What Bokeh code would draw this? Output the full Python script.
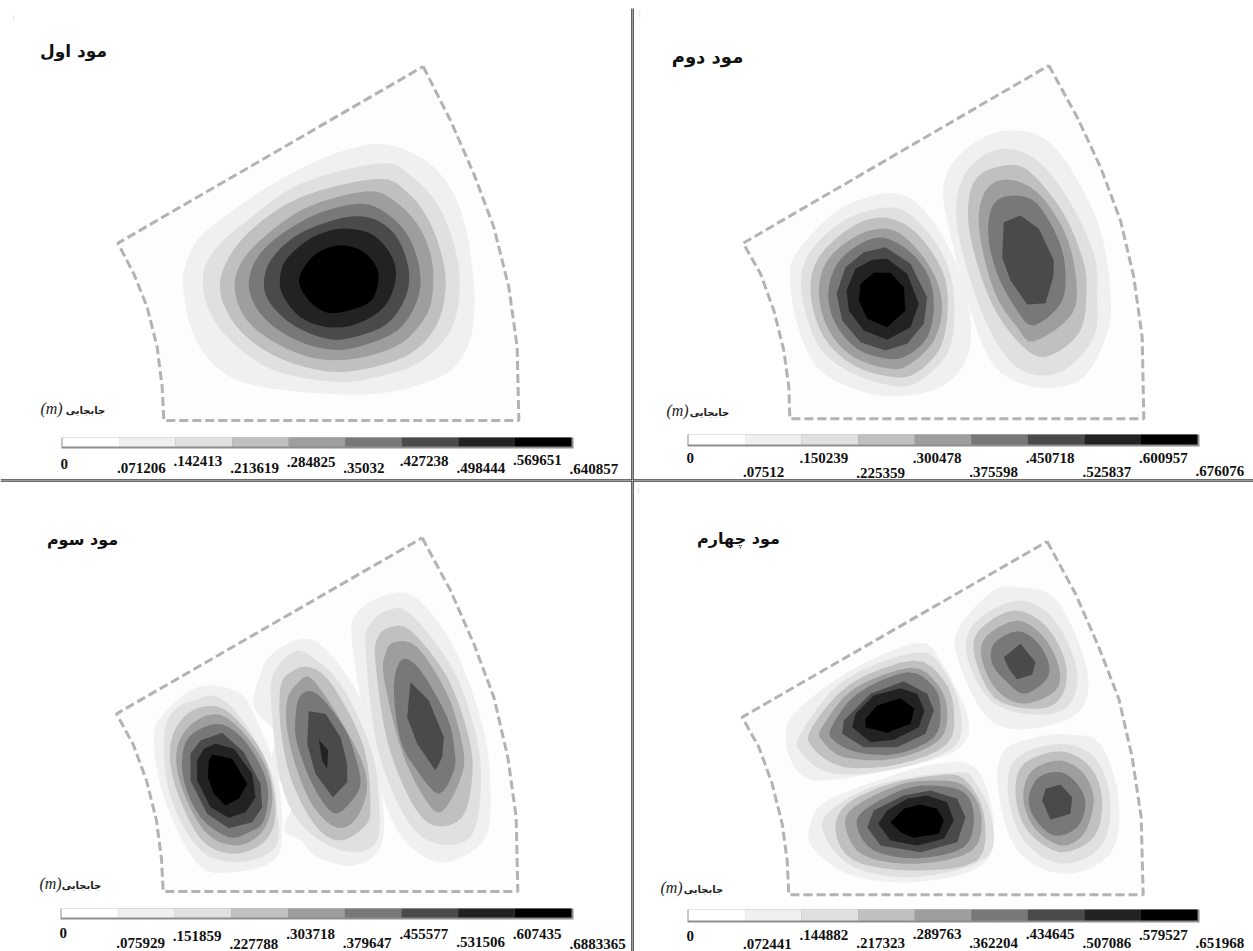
from bokeh.plotting import figure
from bokeh.layouts import column, row
from bokeh.models import Range1d, ColumnDataSource
from bokeh.core.properties import value
from bokeh.embed import file_html
from bokeh.resources import INLINE

# ---- data ----------------------------------------------------------------
TITLES = ["مود اول", "مود دوم", "مود سوم", "مود چهارم"]
WORD = "جابجایی"
UNIT = "(m)"
BAND_COLORS = ["#ffffff", "#f0f0f0", "#e0e0e0", "#c0c0c0", "#9e9e9e", "#787878", "#4a4a4a", "#222222", "#000000"]

TICKS_1 = [".071206", ".142413", ".213619", ".284825", ".35032", ".427238", ".498444", ".569651", ".640857"]
TICKS_2 = [".07512", ".150239", ".225359", ".300478", ".375598", ".450718", ".525837", ".600957", ".676076"]
TICKS_3 = [".075929", ".151859", ".227788", ".303718", ".379647", ".455577", ".531506", ".607435", ".6883365"]
TICKS_4 = [".072441", ".144882", ".217323", ".289763", ".362204", ".434645", ".507086", ".579527", ".651968"]
EDGES_1 = [0, .071206, .142413, .213619, .284825, .356032, .427238, .498444, .569651, .640857]
EDGES_2 = [0, .07512, .150239, .225359, .300478, .375598, .450718, .525837, .600957, .676076]
EDGES_3 = [0, .075929, .151859, .227788, .303718, .379647, .455577, .531506, .607435, .683365]
EDGES_4 = [0, .072441, .144882, .217323, .289763, .362204, .434645, .507086, .579527, .651968]

# sector outlines
SECTOR_1 = [(968,18),(1050,180),(1120,340),(1180,500),(1225,680),(1250,860),(1255,1080),(190,1080),(185,980),(170,860),(140,740),(100,640),(52,548)]
SECTOR_2 = [(955,15),(1040,170),(1110,320),(1170,480),(1210,650),(1235,830),(1240,1075),(178,1075),(175,980),(160,870),(130,750),(90,640),(38,548)]
SECTOR_3 = [(965,22),(1050,180),(1120,340),(1180,500),(1222,680),(1247,860),(1252,1083),(188,1083),(183,985),(168,870),(138,750),(98,642),(48,550)]
SECTOR_4 = [(950,33),(1035,190),(1105,350),(1165,505),(1205,680),(1232,860),(1238,1093),(175,1093),(170,990),(155,880),(125,760),(85,650),(35,560)]

# traced iso-displacement outlines: per lobe, outermost band first
M1_A = [
 [(840,250),(920,270),(1000,320),(1060,400),(1095,500),(1115,620),(1122,740),(1105,850),(1050,930),(950,975),(830,1000),(680,1000),(520,985),(400,955),(320,890),(270,800),(250,700),(250,630),(290,540),(370,470),(500,380),(650,300),(760,262)],
 [(840,308),(930,345),(1010,430),(1060,550),(1078,680),(1050,810),(950,910),(790,958),(680,962),(520,930),(400,850),(325,750),(308,640),(350,560),(440,480),(600,370)],
 [(830,355),(920,395),(985,480),(1025,590),(1035,690),(1005,800),(920,885),(770,930),(650,928),(510,880),(410,800),(360,700),(375,610),(450,510),(600,410)],
 [(800,392),(880,420),(950,490),(990,580),(998,670),(980,760),(900,850),(770,893),(650,895),(530,850),(440,780),(403,690),(420,610),(490,530),(620,440)],
 [(780,430),(860,460),(925,530),(958,630),(950,720),(890,810),(770,860),(670,865),(560,825),(480,760),(445,680),(465,600),(530,530),(650,460)],
 [(770,467),(840,485),(895,540),(925,630),(915,710),(860,790),(760,830),(680,835),(580,795),(510,730),(490,670),(510,600),(580,530),(680,485)],
 [(750,505),(820,525),(875,590),(885,660),(850,740),(770,790),(680,800),(600,770),(550,710),(538,660),(555,600),(620,540),(690,510)],
 [(735,555),(790,575),(830,625),(830,680),(800,730),(700,758),(640,735),(600,680),(600,640),(640,585),(690,560)],
]
M2_A = [
 [(490,398),(550,420),(620,500),(690,640),(720,780),(710,890),(640,975),(500,1008),(370,985),(260,920),(200,790),(178,640),(210,560),(320,450),(420,408)],
 [(480,440),(570,490),(650,610),(672,750),(650,880),(560,965),(480,975),(350,930),(260,850),(212,690),(235,580),(340,480)],
 [(470,472),(560,520),(635,630),(652,740),(630,860),(560,935),(490,950),(370,915),(280,830),(240,700),(265,590),(370,495)],
 [(470,505),(540,545),(610,640),(635,740),(610,840),(540,910),(480,925),(370,890),(295,810),(265,700),(290,600),(380,525)],
 [(460,532),(540,575),(595,650),(610,740),(590,830),(530,885),(470,895),(380,865),(315,790),(293,700),(320,610),(390,550)],
 [(465,560),(540,610),(590,710),(580,790),(530,850),(465,870),(390,845),(335,780),(318,700),(345,620),(400,575)],
 [(470,595),(530,640),(565,730),(540,800),(470,838),(400,810),(355,750),(348,690),(375,625),(425,598)],
 [(480,637),(520,680),(525,750),(470,800),(410,775),(385,720),(390,670),(430,637)],
]
M2_B = [
 [(860,210),(950,240),(1030,340),(1110,510),(1140,700),(1130,820),(1060,950),(950,983),(850,960),(780,900),(720,750),(650,480),(640,370),(680,290),(770,225)],
 [(830,265),(920,300),(1010,410),(1090,580),(1100,710),(1090,830),(1000,930),(900,940),(820,880),(740,720),(680,500),(690,370),(750,290)],
 [(840,313),(910,345),(1000,460),(1055,590),(1068,680),(1050,810),(960,885),(890,870),(800,760),(740,610),(712,460),(740,350)],
 [(830,357),(920,395),(1000,510),(1035,640),(1025,760),(910,843),(860,800),(790,690),(745,500),(765,390)],
 [(850,405),(920,430),(985,540),(1005,640),(990,730),(910,795),(860,750),(800,640),(773,520),(790,430)],
 [(870,465),(925,505),(970,600),(968,650),(945,728),(890,732),(840,660),(815,590),(820,485)],
]
M3_A = [
 [(340,465),(420,490),(460,550),(530,730),(545,900),(520,990),(400,1025),(290,1000),(190,800),(160,620),(190,550),(270,480)],
 [(345,497),(420,560),(510,720),(530,840),(525,950),(420,995),(300,960),(210,800),(190,620),(220,540),(280,510)],
 [(350,528),(430,590),(500,700),(525,850),(490,935),(395,970),(300,925),(225,770),(210,640),(260,550)],
 [(360,553),(440,620),(500,720),(515,820),(480,910),(400,945),(310,900),(240,760),(230,650),(280,575)],
 [(365,582),(440,640),(500,760),(490,870),(445,905),(385,920),(300,860),(250,750),(250,650),(290,600)],
 [(365,607),(430,665),(480,760),(485,830),(455,875),(385,893),(320,850),(270,750),(270,670),(300,630)],
 [(345,640),(400,655),(455,730),(465,800),(435,845),(385,862),(330,830),(290,750),(290,690),(310,655)],
 [(335,672),(395,685),(440,760),(415,805),(375,825),(340,790),(322,740),(325,690)],
]
M3_B = [
 [(600,325),(680,360),(790,530),(845,800),(840,950),(760,1005),(650,980),(600,930),(550,895),(585,800),(530,740),(515,670),(530,610),(460,530),(480,430),(510,375)],
 [(570,370),(620,370),(720,460),(810,650),(835,800),(825,940),(720,960),(600,880),(540,750),(515,560),(515,440)],
 [(570,425),(630,410),(700,470),(790,650),(810,830),(790,890),(715,930),(640,880),(570,740),(540,590),(540,470)],
 [(590,460),(640,450),(760,640),(800,760),(770,860),(710,892),(640,830),(590,720),(560,600),(560,510)],
 [(600,495),(650,490),(730,590),(765,680),(780,760),(750,815),(700,848),(640,770),(590,640),(585,560)],
 [(625,542),(675,550),(720,620),(740,700),(740,755),(697,800),(645,730),(620,640)],
 [(655,628),(683,660),(680,715),(665,690)],
]
M3_C = [
 [(870,190),(950,205),(1060,350),(1150,600),(1170,800),(1150,930),(1040,995),(950,965),(880,880),(820,700),(755,340),(775,240)],
 [(860,240),(930,250),(1060,420),(1130,630),(1140,790),(1110,920),(1010,940),(920,870),(830,650),(795,350),(810,280)],
 [(865,292),(930,300),(1040,440),(1105,620),(1115,740),(1085,860),(1000,885),(930,810),(860,630),(825,400),(830,325)],
 [(880,335),(950,350),(1040,490),(1085,640),(1085,730),(1025,843),(970,800),(900,650),(850,440),(855,370)],
 [(905,387),(960,420),(1040,560),(1062,660),(1060,720),(1015,790),(950,720),(900,630),(880,470)],
 [(930,455),(985,510),(1030,620),(1025,680),(1005,720),(950,640),(920,560)],
]
M4_A = [
 [(560,337),(630,390),(712,560),(690,650),(560,700),(290,750),(200,720),(165,620),(200,540),(360,420)],
 [(560,365),(640,420),(690,540),(670,650),(500,715),(310,730),(215,670),(210,610),(340,450)],
 [(550,390),(640,450),(670,540),(650,640),(510,700),(340,710),(245,650),(245,590),(360,460)],
 [(540,412),(620,460),(650,540),(625,630),(490,685),(340,680),(275,630),(275,590),(370,475)],
 [(530,425),(610,470),(630,540),(610,620),(500,670),(380,665),(310,630),(303,590),(380,490)],
 [(520,452),(590,490),(610,540),(585,610),(500,650),(400,650),(335,610),(340,570),(420,490)],
 [(510,473),(560,490),(582,540),(565,590),(490,628),(420,635),(365,590),(375,550),(430,495)],
 [(510,503),(552,535),(540,580),(470,607),(405,590),(405,565),(440,525)],
]
M4_B = [
 [(710,698),(760,750),(790,880),(770,990),(660,1040),(500,1055),(350,1030),(245,950),(240,880),(290,810),(500,730),(620,700)],
 [(680,725),(730,750),(780,850),(770,980),(560,1040),(370,1010),(280,910),(300,840),(450,760)],
 [(620,735),(700,745),(760,850),(740,990),(550,1020),(370,990),(315,900),(350,820),(480,760)],
 [(610,750),(700,765),(752,850),(725,960),(560,1000),(400,975),(345,890),(370,830),(500,765)],
 [(600,765),(700,785),(730,860),(700,950),(560,983),(430,960),(380,890),(400,840),(510,780)],
 [(600,780),(680,805),(705,860),(680,935),(570,965),(450,945),(410,890),(430,840),(520,795)],
 [(590,795),(650,815),(670,870),(640,925),(560,945),(480,930),(443,880),(470,840),(530,805)],
 [(570,822),(620,835),(640,870),(625,910),(550,922),(510,905),(480,875),(520,835)],
]
M4_C = [
 [(860,170),(980,210),(1070,420),(1040,550),(870,597),(760,550),(675,360),(700,270),(790,180)],
 [(860,210),(970,265),(1040,420),(1010,530),(900,552),(780,510),(710,380),(730,280)],
 [(850,240),(950,290),(1008,410),(985,510),(900,535),(790,500),(733,380),(745,300)],
 [(860,270),(940,320),(985,410),(975,480),(880,520),(800,480),(755,390),(765,320)],
 [(860,302),(920,335),(955,400),(945,450),(880,490),(825,450),(785,400),(790,340)],
 [(870,340),(915,395),(905,432),(860,447),(835,415),(820,380)],
]
M4_D = [
 [(1010,612),(1110,640),(1165,810),(1140,970),(1000,1030),(860,960),(803,780),(820,660),(920,620)],
 [(1000,640),(1100,690),(1140,820),(1110,950),(990,1000),(880,930),(832,790),(860,680)],
 [(990,662),(1080,710),(1115,810),(1090,920),(990,965),(890,900),(855,790),(880,700)],
 [(990,690),(1060,730),(1090,810),(1060,910),(990,945),(910,890),(878,800),(905,720)],
 [(990,725),(1040,760),(1065,820),(1040,890),(970,915),(910,860),(895,800),(925,740)],
 [(990,762),(1025,800),(1020,850),(960,868),(935,810),(945,775)],
]

# ---- layout (image pixels of the panel) ----------------------------------
PANELS = [
 dict(title=TITLES[0], lobes=[M1_A], sector=SECTOR_1, ticks=TICKS_1, edges=EDGES_1,
      ox=100, oy=60, box=(0,0,632,480), bar=(62,571,437,446,448), title_size=17, mark_xy=(13,17),
      tick_y=[463,467,460,467,461,467,460,467,459,468], title_xy=(73,50), word_xy=(85,410), unit_xy=(51,408), smooth_all=True),
 dict(title=TITLES[1], lobes=[M2_A,M2_B], sector=SECTOR_2, ticks=TICKS_2, edges=EDGES_2,
      ox=730, oy=60, box=(632,0,1253,480), bar=(688,1197,434,444,446), title_size=18, mark_xy=(639,13),
      tick_y=[457,471,457,472,457,471,457,471,457,470], title_xy=(707,56), word_xy=(709,412), unit_xy=(677,410), smooth_all=False),
 dict(title=TITLES[2], lobes=[M3_A,M3_B,M3_C], sector=SECTOR_3, ticks=TICKS_3, edges=EDGES_3,
      ox=100, oy=530, box=(0,480,632,951), bar=(61,571,908,917,919), title_size=16, mark_xy=None,
      tick_y=[932,942,935,943,933,942,933,941,933,943], title_xy=(82,539), word_xy=(81,885), unit_xy=(50,883), smooth_all=False),
 dict(title=TITLES[3], lobes=[M4_A,M4_B,M4_C,M4_D], sector=SECTOR_4, ticks=TICKS_4, edges=EDGES_4,
      ox=730, oy=530, box=(632,480,1253,951), bar=(688,1197,909,920,922), title_size=16, mark_xy=(638,490),
      tick_y=[935,943,934,942,933,942,933,942,934,942], title_xy=(738,538), word_xy=(703,889), unit_xy=(671,887), smooth_all=False),
]

def smooth(pts, n=4):
    """Closed Catmull-Rom through the traced outline."""
    out_x, out_y = [], []
    m = len(pts)
    for i in range(m):
        p0, p1, p2, p3 = pts[i-1], pts[i], pts[(i+1) % m], pts[(i+2) % m]
        for k in range(n):
            t = k / n
            for c, out in ((0, out_x), (1, out_y)):
                out.append(0.5 * (2*p1[c] + (p2[c]-p0[c])*t + (2*p0[c]-5*p1[c]+4*p2[c]-p3[c])*t*t
                                  + (3*p1[c]-p0[c]-3*p2[c]+p3[c])*t*t*t))
    return out_x, out_y

def build(cfg):
    x0, y0, x1, y1 = cfg["box"]
    ox, oy = cfg["ox"], cfg["oy"]
    X = lambda v: (v - ox) * 3
    Y = lambda v: (v - oy) * 3
    p = figure(width=x1-x0, height=y1-y0, output_backend="svg", toolbar_location=None,
               x_range=Range1d(X(x0), X(x1)), y_range=Range1d(Y(y1), Y(y0)),
               min_border=0, outline_line_color=None, background_fill_color="white",
               border_fill_color="white")
    p.axis.visible = False
    p.grid.visible = False

    # sector
    sx = [q[0] for q in cfg["sector"]]
    sy = [q[1] for q in cfg["sector"]]
    p.patch(sx, sy, fill_color="#fdfdfd", line_color=None)

    # bands, outermost first over all lobes
    for level in range(8):
        xs, ys = [], []
        for lobe in cfg["lobes"]:
            if level < len(lobe):
                if level < 5 or cfg["smooth_all"]:
                    a, b = smooth(lobe[level])
                else:
                    a, b = [q[0] for q in lobe[level]], [q[1] for q in lobe[level]]
                xs.append(a); ys.append(b)
        if xs:
            p.patches(xs, ys, fill_color=BAND_COLORS[level+1], line_color=None)

    p.line(sx + sx[:1], sy + sy[:1], line_color="#b3b3b3", line_width=3, line_dash="9 4")

    # colour bar, on its own value scale
    a, b, top, bot, shadow = cfg["bar"]
    edges = cfg["edges"]
    k = edges[-1] / (b - a)
    p.extra_x_ranges["cb"] = Range1d((x0 - a) * k, (x1 - a) * k)
    p.quad(left=[edges[0] - k], right=[edges[-1] + 2*k], top=[Y(top)], bottom=[Y(shadow)],
           fill_color="#8e8e8e", line_color=None, x_range_name="cb")
    p.quad(left=edges[:-1], right=edges[1:], top=[Y(top)]*9, bottom=[Y(bot)]*9,
           fill_color=BAND_COLORS, line_color=None, x_range_name="cb")
    labels = ["0"] + cfg["ticks"]
    src = ColumnDataSource(dict(x=edges, y=[Y(v) for v in cfg["tick_y"]], t=labels))
    p.text("x", "y", text="t", source=src, x_range_name="cb", text_font=value("Liberation Serif"),
           text_font_style="bold", text_font_size="15px", text_align="left", text_baseline="middle",
           text_color="#111111", x_offset=-2)

    # texts
    tx, ty = cfg["title_xy"]
    p.text([X(tx)], [Y(ty)], text=[cfg["title"]], text_font=value("DejaVu Sans"), text_font_style="bold",
           text_font_size=f'{cfg["title_size"]}px', text_align="center", text_baseline="middle", text_color="#111111")
    wx, wy = cfg["word_xy"]
    p.text([X(wx)], [Y(wy)], text=[WORD], text_font=value("DejaVu Sans"), text_font_style="bold",
           text_font_size="10px", text_align="center", text_baseline="middle", text_color="#222222")
    ux, uy = cfg["unit_xy"]
    p.text([X(ux)], [Y(uy)], text=[UNIT], text_font=value("Liberation Serif"), text_font_style="italic",
           text_font_size="16px", text_align="center", text_baseline="middle", text_color="#222222")
    if cfg["mark_xy"]:
        mx, my = cfg["mark_xy"]
        p.text([X(mx)], [Y(my)], text=["1"], text_font=value("Liberation Serif"), text_font_size="9px",
               text_align="center", text_baseline="middle", text_color="#e4e4e4")

    # panel dividers, split over the seam of the figures
    divider = dict(line_color="#3c3c3c", line_width=2.6)
    seam_x = x1 if x0 < 100 else x0
    seam_y = y1 if y0 < 100 else y0
    start = 8 if y0 < 100 else y0
    p.segment([X(seam_x)], [Y(start)], [X(seam_x)], [Y(y1)], **divider)
    p.segment([X(x0)], [Y(seam_y)], [X(x1)], [Y(seam_y)], **divider)
    return p

figs = [build(c) for c in PANELS]
page = column(row(figs[0], figs[1], spacing=0), row(figs[2], figs[3], spacing=0), spacing=0)
open("out.html", "w").write(file_html(page, INLINE))
